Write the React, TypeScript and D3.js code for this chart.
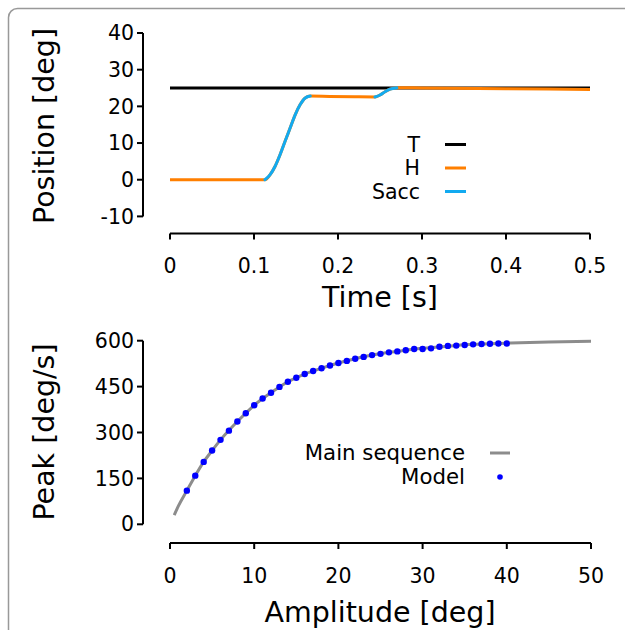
import React from "react";
import * as d3 from "d3";

// ---- Top panel data ----
const timeTicks = [0, 0.1, 0.2, 0.3, 0.4, 0.5];
const posTicks = [-10, 0, 10, 20, 30, 40];
const targetTime = [0, 0.5];
const targetPos = [25, 25];
const headTime = [0, 0.113, 0.119, 0.125, 0.131, 0.137, 0.143, 0.149, 0.155, 0.161, 0.167, 0.19, 0.22, 0.244, 0.25, 0.256, 0.262, 0.27, 0.3, 0.4, 0.5];
const headPos = [0, 0, 1.3, 3.6, 6.8, 10.5, 14.1, 17.7, 20.5, 22.3, 22.8, 22.7, 22.6, 22.55, 23.1, 24.0, 24.7, 25.1, 25.0, 24.8, 24.6];
const sacc1Time = [0.113, 0.119, 0.125, 0.131, 0.137, 0.143, 0.149, 0.155, 0.161, 0.167];
const sacc1Pos = [0, 1.3, 3.6, 6.8, 10.5, 14.1, 17.7, 20.5, 22.3, 22.8];
const sacc2Time = [0.244, 0.25, 0.256, 0.262, 0.27];
const sacc2Pos = [22.55, 23.1, 24.0, 24.7, 25.1];
const topLegend = ["T", "H", "Sacc"];

// ---- Bottom panel data ----
const ampTicks = [0, 10, 20, 30, 40, 50];
const peakTicks = [0, 150, 300, 450, 600];
const mainSeqAmp = [0.5, 1, 2, 3, 4, 5, 6, 8, 10, 12, 14, 16, 18, 20, 22, 24, 26, 28, 30, 33, 36, 40, 45, 50];
const mainSeqPeak = [30, 60, 110, 159, 204, 241, 276, 336, 389, 430, 466, 491, 510, 527, 541, 553, 562, 569, 575, 582, 588, 592, 596, 598];
const modelAmp = [2, 3, 4, 5, 6, 7, 8, 9, 10, 11, 12, 13, 14, 15, 16, 17, 18, 19, 20, 21, 22, 23, 24, 25, 26, 27, 28, 29, 30, 31, 32, 33, 34, 35, 36, 37, 38, 39, 40];
const modelPeak = [110, 159, 204, 241, 276, 306, 336, 363, 389, 411, 430, 449, 466, 479, 491, 501, 510, 519, 527, 534, 541, 547, 553, 557, 562, 565, 569, 573, 573, 575, 580, 583, 584, 586, 588, 589, 590, 591, 591];
const bottomLegend = ["Main sequence", "Model"];

const FONT = "DejaVu Sans, sans-serif";
const BLACK = "#000000";
const ORANGE = "#ff7f00";
const BLUE = "#12aaf0";
const GRAY = "#8c8c8c";
const DOT = "#0000ff";

type Pt = [number, number];
const zip = (a: number[], b: number[]): Pt[] => a.map((v, i) => [v, b[i]]);

function App() {
  const xTop = d3.scaleLinear().domain([0, 0.5]).range([170, 590]);
  const yTop = d3.scaleLinear().domain([-10, 40]).range([216.4, 33]);
  const xBot = d3.scaleLinear().domain([0, 50]).range([170, 591]);
  const yBot = d3.scaleLinear().domain([0, 600]).range([524.3, 340.7]);

  const lineTop = d3
    .line<Pt>()
    .x((d) => xTop(d[0]))
    .y((d) => yTop(d[1]))
    .curve(d3.curveMonotoneX);
  const lineBot = d3
    .line<Pt>()
    .x((d) => xBot(d[0]))
    .y((d) => yBot(d[1]))
    .curve(d3.curveMonotoneX);

  const topAxisY = 233.5;
  const botAxisY = 543;
  const yAxisX = 143;
  const tickLen = 6;
  const tickFont = 20.5;
  const labelFont = 28.5;
  const legendFont = 20.5;
  const legendFontBot = 21.3;

  const topColors = [BLACK, ORANGE, BLUE];

  return (
    <div style={{ position: "absolute", left: 0, top: 0 }}>
      <svg width={625} height={630} style={{ display: "block", background: "#fff" }} fontFamily={FONT}>
        <rect x={8.5} y={8.5} width={640} height={660} rx={9} fill="none" stroke="#999" strokeWidth={1.5} />

        {/* ---------- Top panel ---------- */}
        <path d={lineTop(zip(targetTime, targetPos)) || ""} fill="none" stroke={BLACK} strokeWidth={3} />
        <path d={lineTop(zip(headTime, headPos)) || ""} fill="none" stroke={ORANGE} strokeWidth={3} />
        <path d={lineTop(zip(sacc1Time, sacc1Pos)) || ""} fill="none" stroke={BLUE} strokeWidth={3} strokeLinecap="round" />
        <path d={lineTop(zip(sacc2Time, sacc2Pos)) || ""} fill="none" stroke={BLUE} strokeWidth={3} strokeLinecap="round" />

        {/* y axis */}
        <line x1={yAxisX} x2={yAxisX} y1={yTop(40)} y2={yTop(-10)} stroke="#000" strokeWidth={2} />
        {posTicks.map((t) => (
          <g key={"py" + t}>
            <line x1={yAxisX - tickLen} x2={yAxisX} y1={yTop(t)} y2={yTop(t)} stroke="#000" strokeWidth={2} />
            <text x={yAxisX - 9} y={yTop(t)} dy="0.35em" textAnchor="end" fontSize={tickFont}>
              {t}
            </text>
          </g>
        ))}
        {/* x axis */}
        <line x1={xTop(0)} x2={xTop(0.5)} y1={topAxisY} y2={topAxisY} stroke="#000" strokeWidth={2} />
        {timeTicks.map((t) => (
          <g key={"px" + t}>
            <line x1={xTop(t)} x2={xTop(t)} y1={topAxisY} y2={topAxisY + tickLen} stroke="#000" strokeWidth={2} />
            <text x={xTop(t)} y={266} dy="0.35em" textAnchor="middle" fontSize={tickFont}>
              {t}
            </text>
          </g>
        ))}
        <text x={380} y={297} dy="0.35em" textAnchor="middle" fontSize={labelFont}>
          Time [s]
        </text>
        <text transform={`translate(44,126) rotate(-90)`} dy="0.35em" textAnchor="middle" fontSize={labelFont}>
          Position [deg]
        </text>
        {/* legend */}
        {topLegend.map((name, i) => (
          <g key={name}>
            <text x={420} y={144.5 + i * 23.5} dy="0.35em" textAnchor="end" fontSize={legendFont}>
              {name}
            </text>
            <line x1={445} x2={466} y1={144.5 + i * 23.5} y2={144.5 + i * 23.5} stroke={topColors[i]} strokeWidth={3} />
          </g>
        ))}

        {/* ---------- Bottom panel ---------- */}
        <path d={lineBot(zip(mainSeqAmp, mainSeqPeak)) || ""} fill="none" stroke={GRAY} strokeWidth={3} />
        {zip(modelAmp, modelPeak).map((d, i) => (
          <circle key={"m" + i} cx={xBot(d[0])} cy={yBot(d[1])} r={3.2} fill={DOT} />
        ))}
        {/* y axis */}
        <line x1={yAxisX} x2={yAxisX} y1={yBot(600)} y2={yBot(0)} stroke="#000" strokeWidth={2} />
        {peakTicks.map((t) => (
          <g key={"by" + t}>
            <line x1={yAxisX - tickLen} x2={yAxisX} y1={yBot(t)} y2={yBot(t)} stroke="#000" strokeWidth={2} />
            <text x={yAxisX - 9} y={yBot(t)} dy="0.35em" textAnchor="end" fontSize={tickFont}>
              {t}
            </text>
          </g>
        ))}
        {/* x axis */}
        <line x1={xBot(0)} x2={xBot(50)} y1={botAxisY} y2={botAxisY} stroke="#000" strokeWidth={2} />
        {ampTicks.map((t) => (
          <g key={"bx" + t}>
            <line x1={xBot(t)} x2={xBot(t)} y1={botAxisY} y2={botAxisY + tickLen} stroke="#000" strokeWidth={2} />
            <text x={xBot(t)} y={576} dy="0.35em" textAnchor="middle" fontSize={tickFont}>
              {t}
            </text>
          </g>
        ))}
        <text x={380} y={612} dy="0.35em" textAnchor="middle" fontSize={labelFont}>
          Amplitude [deg]
        </text>
        <text transform={`translate(44,432) rotate(-90)`} dy="0.35em" textAnchor="middle" fontSize={labelFont}>
          Peak [deg/s]
        </text>
        {/* legend */}
        <text x={465} y={453} dy="0.35em" textAnchor="end" fontSize={legendFontBot}>
          {bottomLegend[0]}
        </text>
        <line x1={490} x2={510} y1={453} y2={453} stroke={GRAY} strokeWidth={3} />
        <text x={465} y={477} dy="0.35em" textAnchor="end" fontSize={legendFontBot}>
          {bottomLegend[1]}
        </text>
        <circle cx={500} cy={477} r={2.8} fill={DOT} />
      </svg>
    </div>
  );
}

export default App;
